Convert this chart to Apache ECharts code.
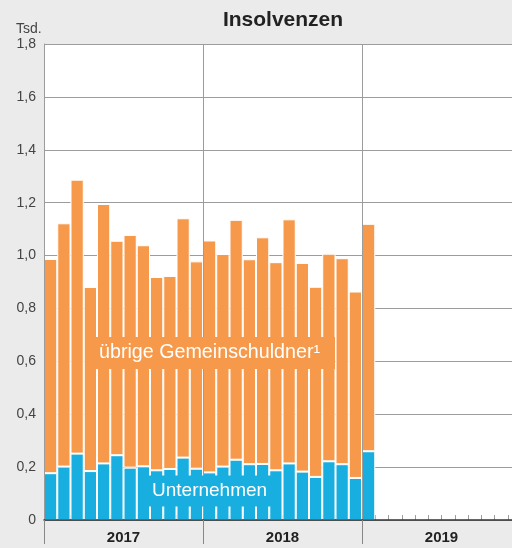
<!DOCTYPE html>
<html>
<head>
<meta charset="utf-8">
<script src="https://cdn.jsdelivr.net/npm/echarts@6/dist/echarts.min.js"></script>
<style>
  html, body { margin: 0; padding: 0; background: #ebebec; overflow: hidden; }
  /* Diagramm läuft rechts über den Rand hinaus (wie im Original abgeschnitten) */
  #chart { width: 521px; height: 548px; }
</style>
</head>
<body>
<div id="chart"></div>
<script>
// Jahre und Monate (Monatsbalken ab Jan 2017)
const years = ['2017', '2018', '2019']
const monthsPerYear = 12
const months = []
for (const y of years) {
  for (let m = 1; m <= monthsPerYear; m++) months.push(y + '-' + m)
}

// Tsd.
const unternehmen = [0.177, 0.202, 0.251, 0.185, 0.214, 0.245, 0.198, 0.203, 0.188, 0.193, 0.236, 0.194,
  0.180, 0.202, 0.228, 0.211, 0.212, 0.188, 0.214, 0.183, 0.163, 0.222, 0.211, 0.159,
  0.260]
const uebrige = [0.81, 0.92, 1.036, 0.696, 0.981, 0.811, 0.88, 0.836, 0.731, 0.73, 0.905, 0.784,
  0.877, 0.804, 0.907, 0.775, 0.857, 0.787, 0.923, 0.789, 0.719, 0.785, 0.779, 0.705,
  0.86]

const yTicks = [0, 0.2, 0.4, 0.6, 0.8, 1.0, 1.2, 1.4, 1.6, 1.8]

const orange = '#f6994a'
const blue = '#18afe0'
const gridGray = '#9c9c9c'
const font = "'Liberation Sans', Arial, Helvetica, sans-serif"

const chart = echarts.init(document.getElementById('chart'))
chart.setOption({
  backgroundColor: '#ebebec',
  animation: false,
  title: {
    text: 'Insolvenzen',
    left: 278,
    top: 5,
    textAlign: 'center',
    textStyle: { fontFamily: font, fontSize: 21, fontWeight: 'bold', color: '#222' },
  },
  grid: {
    left: 44,
    top: 44,
    right: 0,
    bottom: 28,
    show: true,
    backgroundColor: '#fff',
    borderWidth: 0,
  },
  xAxis: [
    {
      type: 'category',
      data: months,
      position: 'bottom',
      axisLine: { show: false },
      axisLabel: { show: false },
      axisTick: { show: true, inside: true, interval: 0, length: 5, lineStyle: { color: gridGray } },
      splitLine: { show: false },
    },
    {
      type: 'category',
      data: years,
      position: 'bottom',
      axisLine: { show: true, lineStyle: { color: '#333', width: 1.5 } },
      axisTick: { show: true, length: 24, lineStyle: { color: '#888' } },
      axisLabel: { fontFamily: font, fontSize: 15, fontWeight: 'bold', color: '#222', margin: 10 },
      splitLine: { show: true, lineStyle: { color: gridGray } },
      z: 3,
    },
  ],
  yAxis: {
    type: 'value',
    min: yTicks[0],
    max: yTicks[yTicks.length - 1],
    interval: 0.2,
    axisLine: { show: true, lineStyle: { color: gridGray } },
    axisTick: { show: false },
    axisLabel: {
      fontFamily: font,
      fontSize: 14,
      color: '#444',
      margin: 8,
      formatter: function (v) {
        return v === 0 ? '0' : v.toFixed(1).replace('.', ',')
      },
    },
    splitLine: { show: true, lineStyle: { color: gridGray } },
  },
  graphic: [
    {
      type: 'text',
      left: 16,
      top: 22,
      style: { text: 'Tsd.', font: '14px ' + font, fill: '#444' },
    },
    {
      type: 'text',
      x: 95,
      y: 353,
      z: 100,
      style: {
        text: 'übrige Gemeinschuldner¹',
        font: '19.7px ' + font,
        fill: '#fff',
        align: 'left',
        verticalAlign: 'middle',
        backgroundColor: orange,
        padding: [6, 15, 6, 4],
      },
    },
    {
      type: 'text',
      x: 147,
      y: 491,
      z: 100,
      style: {
        text: 'Unternehmen',
        font: '19px ' + font,
        fill: '#fff',
        align: 'left',
        verticalAlign: 'middle',
        backgroundColor: blue,
        padding: [6, 5, 6, 5],
      },
    },
  ],
  series: [
    {
      name: 'Unternehmen',
      type: 'bar',
      stack: 'total',
      xAxisIndex: 0,
      barCategoryGap: '0%',
      itemStyle: { color: blue, borderColor: '#fff', borderWidth: 1 },
      data: unternehmen,
    },
    {
      name: 'übrige Gemeinschuldner',
      type: 'bar',
      stack: 'total',
      xAxisIndex: 0,
      barCategoryGap: '0%',
      itemStyle: { color: orange, borderColor: '#fff', borderWidth: 1 },
      data: uebrige,
    },
  ],
})
</script>
</body>
</html>
